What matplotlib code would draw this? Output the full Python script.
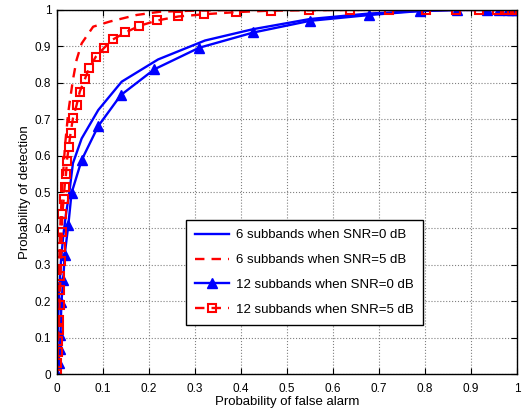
# ROC curves for subband detection (recreated figure)

import matplotlib
matplotlib.use('Agg')
import matplotlib.pyplot as plt

# 6 subbands, SNR = 0 dB
pf_6_0 = [0, 0.002, 0.005, 0.009, 0.014, 0.02, 0.027, 0.035, 0.054, 0.09, 0.141,
          0.22, 0.322, 0.426, 0.55, 0.678, 0.79, 0.87, 0.93, 0.97, 1.0]
pd_6_0 = [0, 0.12, 0.22, 0.31, 0.38, 0.44, 0.497, 0.579, 0.647, 0.725, 0.803,
          0.864, 0.916, 0.947, 0.975, 0.99, 0.997, 1.0, 1.0, 1.0, 1.0]

# 6 subbands, SNR = 5 dB
pf_6_5 = [0, 0.002, 0.005, 0.008, 0.012, 0.018, 0.025, 0.035, 0.043, 0.054,
          0.079, 0.115, 0.173, 0.224, 0.3, 0.4, 0.55, 0.7, 0.85, 1.0]
pd_6_5 = [0, 0.15, 0.3, 0.42, 0.52, 0.63, 0.72, 0.808, 0.863, 0.908,
          0.954, 0.968, 0.986, 0.995, 0.998, 1.0, 1.0, 1.0, 1.0, 1.0]

# 12 subbands, SNR = 0 dB
pf_12_0 = [0, 0.004, 0.006, 0.008, 0.01, 0.014, 0.017, 0.025, 0.032, 0.054,
           0.09, 0.139, 0.212, 0.309, 0.427, 0.55, 0.679, 0.789, 0.869, 0.934,
           0.96, 0.98, 0.99, 1.0]
pd_12_0 = [0, 0.03, 0.07, 0.107, 0.199, 0.258, 0.327, 0.409, 0.497, 0.588,
           0.681, 0.766, 0.837, 0.896, 0.938, 0.970, 0.986, 0.997, 1.0, 1.0,
           1.0, 1.0, 1.0, 1.0]

# 12 subbands, SNR = 5 dB
pf_12_5 = [0, 0.001, 0.002, 0.003, 0.004, 0.005, 0.006, 0.007, 0.008, 0.009,
           0.01, 0.011, 0.012, 0.015, 0.017, 0.02, 0.022, 0.026, 0.03, 0.035,
           0.043, 0.05, 0.061, 0.07, 0.085, 0.103, 0.122, 0.149, 0.179, 0.218,
           0.264, 0.32, 0.39, 0.465, 0.548, 0.637, 0.722, 0.802, 0.867, 0.918,
           0.956, 0.978, 0.99, 1.0]
pd_12_5 = [0, 0.03, 0.06, 0.09, 0.12, 0.15, 0.19, 0.23, 0.27, 0.31,
           0.35, 0.39, 0.44, 0.482, 0.515, 0.549, 0.586, 0.624, 0.663, 0.702,
           0.739, 0.776, 0.810, 0.840, 0.872, 0.896, 0.919, 0.938, 0.956, 0.971,
           0.982, 0.988, 0.994, 0.998, 0.999, 1.0, 1.0, 1.0, 1.0, 1.0,
           1.0, 1.0, 1.0, 1.0]

labels = ['6 subbands when SNR=0 dB', '6 subbands when SNR=5 dB',
          '12 subbands when SNR=0 dB', '12 subbands when SNR=5 dB']

plt.rcParams['font.family'] = ['Liberation Sans', 'DejaVu Sans']

fig = plt.figure(figsize=(5.26, 4.13), dpi=100)
ax = fig.add_axes([0.108, 0.094, 0.875, 0.882])

ax.plot(pf_6_0, pd_6_0, color='blue', lw=1.7, label=labels[0])
ax.plot(pf_6_5, pd_6_5, color='red', lw=1.7, ls=(0, (4, 3)), label=labels[1])
ax.plot(pf_12_0, pd_12_0, color='blue', lw=1.7, marker='^', ms=7,
        label=labels[2])
ax.plot(pf_12_5, pd_12_5, color='red', lw=1.7, ls=(0, (4, 3)), marker='s', ms=5.5,
        mfc='none', mew=1.5, label=labels[3])

ax.set_xlim(0, 1)
ax.set_ylim(0, 1)
ax.set_xticks([i / 10 for i in range(11)])
ax.set_yticks([i / 10 for i in range(11)])
ax.set_xticklabels(['0'] + ['%.1f' % (i / 10) for i in range(1, 10)] + ['1'])
ax.set_yticklabels(['0'] + ['%.1f' % (i / 10) for i in range(1, 10)] + ['1'])
ax.tick_params(direction='in', top=True, right=True, labelsize=8.5, length=4)
ax.tick_params(axis='x', pad=6)
ax.tick_params(axis='y', pad=4)
ax.grid(True, ls=':', color='gray', lw=0.8)
for s in ax.spines.values():
    s.set_linewidth(1.0)

ax.set_xlabel('Probability of false alarm', fontsize=9.5, labelpad=1)
ax.set_ylabel('Probability of detection', fontsize=9.5, labelpad=3)

leg = ax.legend(loc='lower left', bbox_to_anchor=(0.266, 0.117), fontsize=9.5,
                fancybox=False, framealpha=1, edgecolor='black',
                handlelength=2.6, handletextpad=0.5, borderpad=0.7,
                labelspacing=0.95)
leg.get_frame().set_linewidth(1.0)

fig.savefig('out.png', dpi=100)
